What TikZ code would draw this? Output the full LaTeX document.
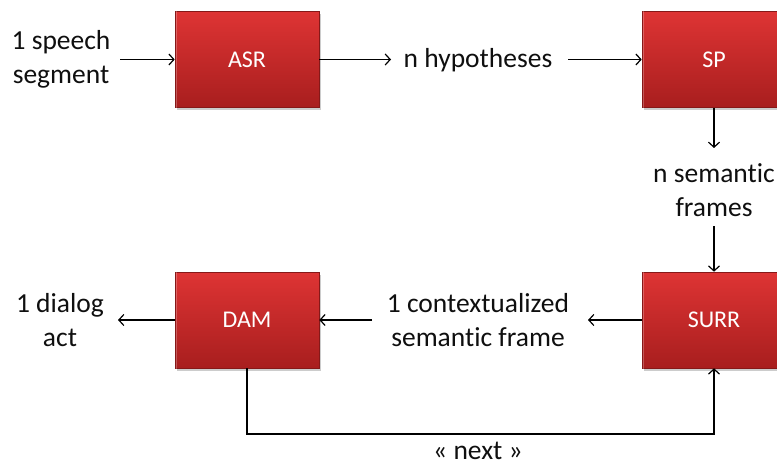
\documentclass[tikz,border=0pt]{standalone}
\usepackage{fontspec}
\setmainfont{Carlito}[Ligatures=NoCommon]
\usetikzlibrary{arrows.meta,shadows,positioning}
\definecolor{boxtop}{RGB}{222,52,52}
\definecolor{boxbot}{RGB}{168,30,30}
\definecolor{txt}{RGB}{15,15,15}
\tikzset{
  procbox/.style={rectangle, minimum width=144pt, minimum height=96pt, inner sep=0pt,
    top color=boxtop, bottom color=boxbot, draw=boxbot!80!black, line width=0.6pt,
    drop shadow={opacity=0.4, shadow xshift=1.5pt, shadow yshift=-3pt},
    text=white, font=\fontsize{24}{28}\selectfont},
  lbl/.style={align=center, text=txt, inner sep=0pt, font=\fontsize{27.5}{34}\selectfont},
  lblone/.style={text=txt, inner sep=0pt, font=\fontsize{27.5}{34}\selectfont},
  conn/.style={line width=1.2pt, -{Straight Barb[length=5pt,width=11pt,line width=1.2pt]}},
  bevel/.style={draw=white, opacity=0.25, line width=1.5pt}
}
\begin{document}
\begin{tikzpicture}[x=1pt,y=-1pt]
\useasboundingbox (0,0) rectangle (777,468);
\clip (0,0) rectangle (777,468);
\node[procbox] (asr) at (247,59.5) {ASR};
\node[procbox] (sp) at (714,59.5) {SP};
\node[procbox] (dam) at (247,320) {DAM};
\node[procbox] (surr) at (714,320) {SURR};
\foreach \b in {asr,sp,dam,surr}{
  \draw[bevel] ([shift={(2pt,-2pt)}]\b.south west) -- ([shift={(2pt,2pt)}]\b.north west) -- ([shift={(-2pt,2pt)}]\b.north east);
}

\node[lbl] (speech) at (61,59) {1 speech\\segment};
\node[lblone] (hyp) at (478,60) {n hypotheses};
\node[lbl] (sem) at (714,190) {n semantic\\frames};
\node[lbl] (ctx) at (478,320) {1 contextualized\\semantic frame};
\node[lbl] (dia) at (60,320) {1 dialog\\act};
\node[lblone, anchor=base] (next) at (478,459) {« next »};

\coordinate (sa) at (120,59.5);
\coordinate (ha) at (391,59.5);
\coordinate (hb) at (568,59.5);
\coordinate (spa) at (714,148);
\coordinate (sma) at (714,226);
\coordinate (ca) at (588,320);
\coordinate (cb) at (372,320);
\coordinate (da) at (118,320);
\coordinate (b1) at (247,434);
\coordinate (b2) at (714,434);

\draw[conn] (sa) -- (asr.west);
\draw[conn] (asr.east) -- (ha);
\draw[conn] (hb) -- (sp.west);
\draw[conn] (sp.south) -- (spa);
\draw[conn] (sma) -- (surr.north);
\draw[conn] (surr.west) -- (ca);
\draw[conn] (cb) -- (dam.east);
\draw[conn] (dam.west) -- (da);
\draw[conn] (dam.south) -- (b1) -- (b2) -- (surr.south);
\end{tikzpicture}
\end{document}
